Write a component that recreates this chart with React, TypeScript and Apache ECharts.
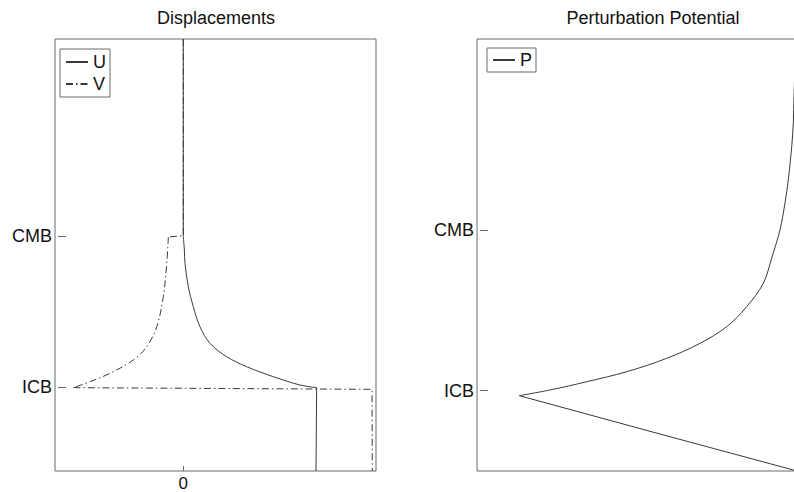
import React, { useEffect, useRef } from "react";
import * as echarts from "echarts";

// Boundary ticks (radius, km) and their names
const tickValues = [1221, 3480];
const tickNames = ["ICB", "CMB"];

// Displacements panel: U (solid) and V (dash-dot); x = displacement, r = radius
// U: straight part above CMB, curved outer-core part, straight inner-core part
const uTopX = [0, 0];
const uTopR = [6440, 3480];
const uCurveX = [0, 0.008, 0.0127, 0.0375, 0.075, 0.125, 0.2, 0.325, 0.475, 0.675, 0.875, 1.0];
const uCurveR = [3480, 3275, 3076, 2725, 2425, 2125, 1876, 1675, 1525, 1375, 1250, 1210];
const uInnerX = [1.0, 0.995];
const uInnerR = [1210, -40];

// V
const vTopX = [0, 0, -0.112];
const vTopR = [6440, 3490, 3470];
const vCurveX = [-0.112, -0.124, -0.15, -0.199, -0.274, -0.375, -0.549, -0.699, -0.824];
const vCurveR = [3470, 3076, 2575, 2125, 1825, 1625, 1426, 1300, 1210];
const vInnerX = [-0.824, 1.415, 1.417];
const vInnerR = [1210, 1185, -40];

// Perturbation potential panel: P (curved mantle/outer-core part, straight inner-core part)
const pCurveX = [0.9938, 0.9875, 0.9854, 0.9804, 0.9698, 0.9595, 0.9439, 0.919, 0.8919, 0.8402, 0.7779, 0.6947, 0.591, 0.4664, 0.3417, 0.2274, 0.1318];
const pCurveR = [6165, 5354, 4984, 4651, 4183, 3859, 3480, 3100, 2731, 2402, 2121, 1887, 1676, 1488, 1347, 1231, 1151];
const pInnerX = [0.1318, 0.57, 0.997];
const pInnerR = [1151, 612, 92];

const zip = (xs: number[], ys: number[]) => xs.map((x, i) => [x, ys[i]]);

const FONT = "'Liberation Sans', Arial, Helvetica, sans-serif";
const LINE = "#3a3a3a";
const BOX = "#6a6a6a";
const TXT = "#111";
const DASHDOT = [7, 3, 1.5, 3];

export default function App() {
  const ref = useRef<HTMLDivElement>(null);
  useEffect(() => {
    if (!ref.current) return;
    const chart = echarts.init(ref.current, undefined, { renderer: "svg" });
    const labelFmt = (v: number) => {
      const i = tickValues.indexOf(v);
      return i >= 0 ? tickNames[i] : "";
    };
    const yAxisBase = (gridIndex: number, min: number, max: number) => ({
      type: "value",
      gridIndex,
      min,
      max,
      offset: -3,
      axisLine: { show: false, onZero: false },
      splitLine: { show: false },
      axisTick: {
        show: true,
        inside: true,
        length: 8,
        customValues: tickValues,
        lineStyle: { color: BOX, width: 1 },
      },
      axisLabel: {
        show: true,
        customValues: tickValues,
        formatter: labelFmt,
        margin: 6,
        fontSize: 18,
        color: TXT,
        fontFamily: FONT,
      },
    });
    const line = (name: string, xi: number, xs: number[], ys: number[], dashed: boolean, smooth: boolean) => ({
      name,
      type: "line",
      xAxisIndex: xi,
      yAxisIndex: xi,
      data: zip(xs, ys),
      symbol: "none",
      showSymbol: false,
      smooth: smooth ? 0.35 : false,
      color: LINE,
      lineStyle: { color: LINE, width: 1, type: dashed ? DASHDOT : "solid" },
    });
    const legendItemStyle = { color: "transparent", borderColor: "transparent", borderWidth: 0, opacity: 0 };
    const option: any = {
      animation: false,
      backgroundColor: "#fff",
      textStyle: { fontFamily: FONT },
      title: [
        {
          text: "Displacements",
          left: 216,
          top: 9,
          textAlign: "center",
          padding: 0,
          textStyle: { fontSize: 18, fontWeight: "normal", color: TXT, fontFamily: FONT },
        },
        {
          text: "Perturbation Potential",
          left: 653,
          top: 9,
          textAlign: "center",
          padding: 0,
          textStyle: { fontSize: 18, fontWeight: "normal", color: TXT, fontFamily: FONT },
        },
      ],
      legend: [
        {
          data: ["U", "V"],
          orient: "vertical",
          left: 60,
          top: 49,
          padding: [3, 4, 3, 5],
          itemGap: 2,
          itemWidth: 22,
          itemHeight: 14,
          borderColor: BOX,
          borderWidth: 1,
          itemStyle: legendItemStyle,
          textStyle: { fontSize: 18, color: TXT, fontFamily: FONT, lineHeight: 20 },
        },
        {
          data: ["P"],
          orient: "vertical",
          left: 487,
          top: 48,
          padding: [2, 4, 2, 5],
          itemWidth: 22,
          itemHeight: 14,
          borderColor: BOX,
          borderWidth: 1,
          itemStyle: legendItemStyle,
          textStyle: { fontSize: 18, color: TXT, fontFamily: FONT, lineHeight: 20 },
        },
      ],
      grid: [
        { left: 55, top: 39, width: 321, height: 432, show: true, borderColor: BOX, borderWidth: 1, containLabel: false, outerBoundsMode: "none" },
        { left: 477, top: 39, width: 351, height: 432, show: true, borderColor: BOX, borderWidth: 1, containLabel: false, outerBoundsMode: "none" },
      ],
      xAxis: [
        {
          type: "value",
          gridIndex: 0,
          min: -0.962,
          max: 1.445,
          axisLine: { show: false, onZero: false },
          splitLine: { show: false },
          axisTick: {
            show: true,
            inside: true,
            length: 5,
            customValues: [0],
            lineStyle: { color: BOX, width: 1 },
          },
          axisLabel: {
            show: true,
            customValues: [0],
            formatter: (v: number) => String(v),
            margin: 5,
            fontSize: 17,
            lineHeight: 14,
            color: TXT,
            fontFamily: FONT,
          },
        },
        {
          type: "value",
          gridIndex: 1,
          min: 0,
          max: 1.0935,
          axisLine: { show: false, onZero: false },
          splitLine: { show: false },
          axisTick: { show: false },
          axisLabel: { show: false },
        },
      ],
      yAxis: [yAxisBase(0, -40, 6440), yAxisBase(1, 92, 6165)],
      series: [
        line("U", 0, uTopX, uTopR, false, false),
        line("U", 0, uCurveX, uCurveR, false, true),
        line("U", 0, uInnerX, uInnerR, false, false),
        line("V", 0, vTopX, vTopR, true, false),
        line("V", 0, vCurveX, vCurveR, true, true),
        line("V", 0, vInnerX, vInnerR, true, false),
        line("P", 1, pCurveX, pCurveR, false, true),
        line("P", 1, pInnerX, pInnerR, false, false),
      ],
    };
    chart.setOption(option);
    return () => chart.dispose();
  }, []);
  return (
    <div
      ref={ref}
      style={{ position: "fixed", left: 0, top: 0, width: 794, height: 492, background: "#fff" }}
    />
  );
}
